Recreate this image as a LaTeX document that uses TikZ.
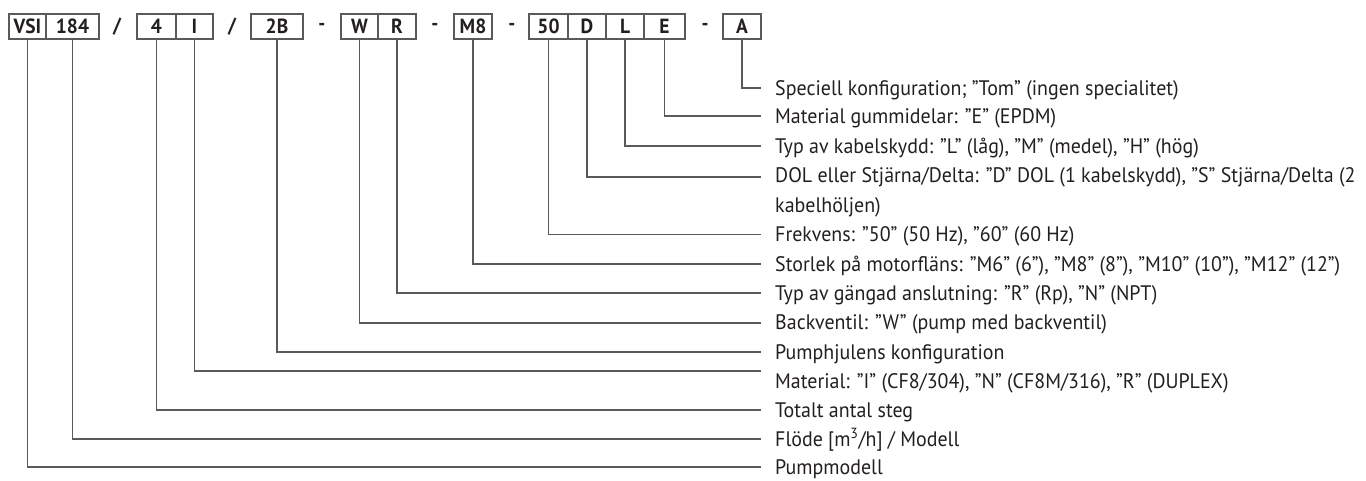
\documentclass[tikz,border=0pt]{standalone}
\usepackage{fontspec}
\setmainfont{PT Sans}[FakeStretch=0.95]
\usetikzlibrary{positioning}
\definecolor{leadgray}{HTML}{5A5A5A}
\definecolor{inktext}{HTML}{231F20}

\begin{document}
\begin{tikzpicture}[x=1pt, y=-1pt,
    box/.style={draw=leadgray, line width=1.2pt, minimum height=25pt,
                inner sep=0pt, outer sep=0pt, text=inktext,
                font=\fontsize{20.5}{22}\selectfont\bfseries},
    sep/.style={inner sep=0pt, text=inktext,
                font=\fontsize{20.5}{22}\selectfont\bfseries},
    lbl/.style={anchor=base west, inner sep=0pt, align=left, text=inktext,
                font=\fontsize{21}{29.3}\selectfont},
    lead/.style={draw=leadgray, line width=1.2pt}
  ]
  \useasboundingbox (0,0) rectangle (1366,480);
  % Code boxes
  \node[box, minimum width=37] (vsi) at (27.5,26.5) {VSI};
  \node[box, minimum width=53, right=0pt of vsi] (flow) {184};
  \node[sep] (s1) at (117,26.5) {/};
  \node[box, minimum width=39] (stages) at (156.5,26.5) {4};
  \node[box, minimum width=37, right=0pt of stages] (mat) {I};
  \node[sep] (s2) at (232,26.5) {/};
  \node[box, minimum width=52] (imp) at (277,26.5) {2B};
  \node[sep] (s3) at (322,26.5) {-};
  \node[box, minimum width=37] (nrv) at (359.5,26.5) {W};
  \node[box, minimum width=38, right=0pt of nrv] (conn) {R};
  \node[sep] (s4) at (435,26.5) {-};
  \node[box, minimum width=38] (flange) at (473,26.5) {M8};
  \node[sep] (s5) at (512,26.5) {-};
  \node[box, minimum width=39] (freq) at (548.5,26.5) {50};
  \node[box, minimum width=38, right=0pt of freq] (start) {D};
  \node[box, minimum width=38, right=0pt of start] (cable) {L};
  \node[box, minimum width=41, right=0pt of cable] (rubber) {E};
  \node[sep] (s6) at (705,26.5) {-};
  \node[box, minimum width=38] (spec) at (742,26.5) {A};
  % Line ends
  \coordinate (espec) at (761,88);
  \coordinate (erubber) at (761,116);
  \coordinate (ecable) at (761,146);
  \coordinate (estart) at (761,177);
  \coordinate (efreq) at (761,234.5);
  \coordinate (eflange) at (761,264);
  \coordinate (econn) at (761,293);
  \coordinate (enrv) at (761,323);
  \coordinate (eimp) at (761,352);
  \coordinate (emat) at (761,371);
  \coordinate (estages) at (761,410);
  \coordinate (eflow) at (761,439);
  \coordinate (evsi) at (761,467);
  % Labels
  \node[lbl] (tspec) at (775,95) {Speciell konfiguration; ”Tom" (ingen specialitet)};
  \node[lbl] (trubber) at (775,123.5) {Material gummidelar: "E” (EPDM)};
  \node[lbl] (tcable) at (775,153) {Typ av kabelskydd: "L” (låg), "M” (medel), "H” (hög)};
  \node[lbl] (tstart) at (775,212) {DOL eller Stjärna/Delta: "D” DOL (1 kabelskydd), "S” Stjärna/Delta (2\\kabelhöljen)};
  \node[lbl] (tfreq) at (775,241.5) {Frekvens: "50" (50 Hz), "60" (60 Hz)};
  \node[lbl] (tflange) at (775,271) {Storlek på motorfläns: "M6” (6”), "M8” (8”), "M10” (10”), "M12” (12”)};
  \node[lbl] (tconn) at (775,300.5) {Typ av gängad anslutning: "R” (Rp), "N” (NPT)};
  \node[lbl] (tnrv) at (775,329.5) {Backventil: "W” (pump med backventil)};
  \node[lbl] (timp) at (775,359) {Pumphjulens konfiguration};
  \node[lbl] (tmat) at (775,388.5) {Material: "I" (CF8/304), "N" (CF8M/316), "R" (DUPLEX)};
  \node[lbl] (tstages) at (775,417.5) {Totalt antal steg};
  \node[lbl] (tflow) at (775,446.5) {Flöde [m\textsuperscript{3}/h] / Modell};
  \node[lbl] (tvsi) at (775,474.5) {Pumpmodell};
  % Leads
  \draw[lead] (spec.south) |- (espec);
  \draw[lead] (rubber.south) |- (erubber);
  \draw[lead] (cable.south) |- (ecable);
  \draw[lead] (start.south) |- (estart);
  \draw[lead] (freq.south) |- (efreq);
  \draw[lead] (flange.south) |- (eflange);
  \draw[lead] (conn.south) |- (econn);
  \draw[lead] (nrv.south) |- (enrv);
  \draw[lead] (imp.south) |- (eimp);
  \draw[lead] (mat.south) |- (emat);
  \draw[lead] (stages.south) |- (estages);
  \draw[lead] (flow.south) |- (eflow);
  \draw[lead] (vsi.south) |- (evsi);
\end{tikzpicture}
\end{document}
